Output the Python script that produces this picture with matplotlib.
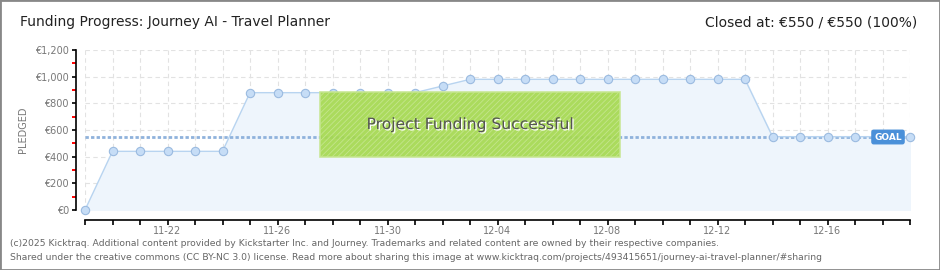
import matplotlib.pyplot as plt
import matplotlib.patches as mpatches
import matplotlib.patheffects as pe
import numpy as np

days = ["11-19", "11-20", "11-21", "11-22", "11-23", "11-24", "11-25", "11-26",
        "11-27", "11-28", "11-29", "11-30", "12-01", "12-02", "12-03", "12-04",
        "12-05", "12-06", "12-07", "12-08", "12-09", "12-10", "12-11", "12-12",
        "12-13", "12-14", "12-15", "12-16", "12-17", "12-18", "12-19"]
pledged = [0, 440, 440, 440, 440, 440, 880, 880, 880, 880, 880, 880, 880, 930,
           980, 980, 980, 980, 980, 980, 980, 980, 980, 980, 980,
           550, 550, 550, 550, 550, 550]
goal = 550
yticks = [0, 200, 400, 600, 800, 1000, 1200]

plt.rcParams["hatch.color"] = "#98cc40"
plt.rcParams["hatch.linewidth"] = 0.6

W, H = 940, 270
fig = plt.figure(figsize=(W / 100, H / 100), dpi=100)
fig.patch.set_facecolor("white")
fig.add_artist(mpatches.Rectangle((0, 0), 1, 1, transform=fig.transFigure,
                                  fill=False, edgecolor="#888888", lw=2))

ax = fig.add_axes([85 / W, (H - 210) / H, 825 / W, 160 / H])
x = np.arange(len(days))
ax.set_xlim(0, len(days) - 1)
ax.set_ylim(0, 1200)

ax.fill_between(x, pledged, color="#eef5fc", zorder=1)
ax.plot(x, pledged, color="#b8d4f0", lw=1, zorder=3)
ax.plot(x, pledged, "o", ms=6, mfc="#c6ddf6", mec="#9bbbe0", mew=0.8,
        clip_on=False, zorder=4)
ax.axhline(goal, color="#8fb2dc", lw=2, ls=(0, (1.2, 0.8)), zorder=2)

# grid
ax.set_xticks(x)
ax.set_yticks(yticks)
ax.grid(True, color="#e2e2e2", ls=(0, (4, 3)), lw=0.8)
ax.set_axisbelow(True)

ax.set_xticklabels([d if i % 4 == 3 else "" for i, d in enumerate(days)])
ax.set_yticklabels(["€{:,}".format(v) for v in yticks])
ax.set_yticks(np.arange(100, 1200, 200), minor=True)
ax.tick_params(axis="y", which="minor", length=3, color="red", width=1.4)
ax.tick_params(axis="y", which="major", length=3, width=1.2, labelsize=7,
               labelcolor="#777777", pad=2)
ax.tick_params(axis="x", length=3.5, width=1.2, labelsize=7, labelcolor="#777777", pad=1)

for s in ["top", "right"]:
    ax.spines[s].set_visible(False)
ax.spines["left"].set_position(("outward", 6.5))
ax.spines["bottom"].set_position(("outward", 7.2))
ax.spines["left"].set_linewidth(1.2)
ax.spines["bottom"].set_linewidth(1.2)
ax.set_ylabel("PLEDGED", fontsize=7, color="#777777", labelpad=5)

# success banner
bx0, bx1 = 320, 620
by0, by1 = 92, 157
banner = mpatches.Rectangle((bx0 / W, (H - by1) / H), (bx1 - bx0) / W, (by1 - by0) / H,
                            transform=fig.transFigure, facecolor="#a6d94f",
                            edgecolor="#c6e690", hatch="//////", lw=1.2,
                            alpha=0.92, zorder=5)
fig.add_artist(banner)
fig.text((bx0 + bx1) / 2 / W, (H - (by0 + by1) / 2) / H, "Project Funding Successful",
         ha="center", va="center", fontsize=11.2, color="#555555", zorder=6,
         path_effects=[pe.withSimplePatchShadow(offset=(1, -1), shadow_rgbFace="white", alpha=1)])

# goal tag
fig.text(888 / W, (H - 137) / H, "GOAL", ha="center", va="center", fontsize=6.5,
         color="white", fontweight="bold", zorder=7,
         bbox=dict(boxstyle="round,pad=0.25,rounding_size=0.2", fc="#4a90d9", ec="#4a90d9"))

fig.text(20 / W, (H - 22) / H, "Funding Progress: Journey AI - Travel Planner",
         fontsize=10, color="#222222", va="center")
fig.text(917 / W, (H - 22) / H, "Closed at: €550 / €550 (100%)",
         fontsize=10, color="#222222", va="center", ha="right")
fig.text(10 / W, (H - 244) / H,
         "(c)2025 Kicktraq. Additional content provided by Kickstarter Inc. and Journey. "
         "Trademarks and related content are owned by their respective companies.",
         fontsize=6.7, color="#666666", va="center")
fig.text(10 / W, (H - 257) / H,
         "Shared under the creative commons (CC BY-NC 3.0) license. Read more about sharing "
         "this image at www.kicktraq.com/projects/493415651/journey-ai-travel-planner/#sharing",
         fontsize=6.7, color="#666666", va="center")

fig.savefig("out.png", dpi=100)
